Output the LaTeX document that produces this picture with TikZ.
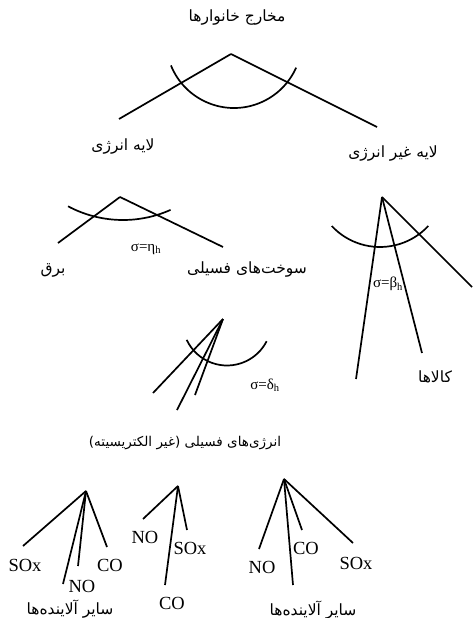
\documentclass[tikz,border=0pt]{standalone}
\usepackage{fontspec}
\setmainfont{Liberation Serif}
\newfontfamily\farsifont[Script=Arabic]{DejaVu Sans}
\TeXXeTstate=1
\usetikzlibrary{positioning}
\newcommand{\fatext}[1]{{\farsifont\beginR #1\endR}}

\begin{document}
\begin{tikzpicture}[x=1pt,y=-1pt,
  branch/.style={line width=1.7pt},
  falabel/.style={inner sep=1pt,font=\fontsize{15.5}{17}\selectfont},
  enlabel/.style={inner sep=1pt,font=\fontsize{18.5}{20}\selectfont},
  siglabel/.style={inner sep=1pt,font=\fontsize{15}{17}\selectfont}]
  \useasboundingbox (0,0) rectangle (472,618);

  % household expenditure
  \node[falabel] (spend) at (237,18) {\fatext{مخارج خانوارها}};
  \coordinate (sApex) at (231,54);
  \coordinate (sL) at (119,119);
  \coordinate (sR) at (377,127);
  \draw[branch] (sApex) -- (sL);
  \draw[branch] (sApex) -- (sR);
  \draw[branch] (234,40) ++(158:68) arc[start angle=158,end angle=24,radius=68];
  \node[falabel] (energy) at (123,147) {\fatext{لایه انرژی}};
  \node[falabel] (nonenergy) at (393,154) {\fatext{لایه غیر انرژی}};

  % energy layer
  \coordinate (eApex) at (120,197);
  \coordinate (eL) at (58,243);
  \coordinate (eR) at (223,247);
  \draw[branch] (eApex) -- (eL);
  \draw[branch] (eApex) -- (eR);
  \draw[branch] (123,103) ++(118:117) arc[start angle=118,end angle=66,radius=117];
  \node[siglabel] (eta) at (146,249) {σ=η\textsubscript{h}};
  \node[falabel] (elec) at (53,270) {\fatext{برق}};
  \node[falabel] (fuel) at (247,270) {\fatext{سوخت‌های فسیلی}};

  % non-energy layer
  \coordinate (gApex) at (382,197);
  \foreach \x/\y [count=\i] in {356/379,422/353,472/287} {
    \coordinate (g\i) at (\x,\y);
    \draw[branch] (gApex) -- (g\i);
  }
  \draw[branch] (380,181) ++(137:66) arc[start angle=137,end angle=43,radius=66];
  \node[siglabel] (beta) at (388,284) {σ=β\textsubscript{h}};
  \node[falabel] (goods) at (435,377) {\fatext{کالاها}};

  % fossil fuels
  \coordinate (fApex) at (223,319);
  \foreach \x/\y [count=\i] in {153/393,177/410,195/395} {
    \coordinate (f\i) at (\x,\y);
    \draw[branch] (fApex) -- (f\i);
  }
  \draw[branch] (227,321) ++(155:44.5) arc[start angle=155,end angle=27,radius=44.5];
  \node[siglabel] (delta) at (265,385) {σ=δ\textsubscript{h}};

  % emissions
  \node[falabel,font=\fontsize{13.5}{15}\selectfont] (fossil) at (185,443) {\fatext{انرژی‌های فسیلی (غیر الکتریسیته)}};
  \coordinate (aApex) at (86,491);
  \foreach \x/\y [count=\i] in {23/546,63/584,78/566,107/547} {
    \coordinate (a\i) at (\x,\y);
    \draw[branch] (aApex) -- (a\i);
  }
  \node[enlabel] (aSOx) at (25,565) {SOx};
  \node[enlabel] (aNO) at (82,586) {NO};
  \node[enlabel] (aCO) at (110,565) {CO};
  \node[falabel] (aOther) at (70,609) {\fatext{سایر آلاینده‌ها}};

  \coordinate (bApex) at (178,486);
  \foreach \x/\y [count=\i] in {143/519,165/585,187/530} {
    \coordinate (b\i) at (\x,\y);
    \draw[branch] (bApex) -- (b\i);
  }
  \node[enlabel] (bNO) at (145,537) {NO};
  \node[enlabel] (bSOx) at (190,548) {SOx};
  \node[enlabel] (bCO) at (172,603) {CO};

  \coordinate (cApex) at (284,479);
  \foreach \x/\y [count=\i] in {259/549,293/585,302/530,353/543} {
    \coordinate (c\i) at (\x,\y);
    \draw[branch] (cApex) -- (c\i);
  }
  \node[enlabel] (cNO) at (262,567) {NO};
  \node[enlabel] (cCO) at (306,548) {CO};
  \node[enlabel] (cSOx) at (356,563) {SOx};
  \node[falabel] (cOther) at (313,610) {\fatext{سایر آلاینده‌ها}};
\end{tikzpicture}
\end{document}
